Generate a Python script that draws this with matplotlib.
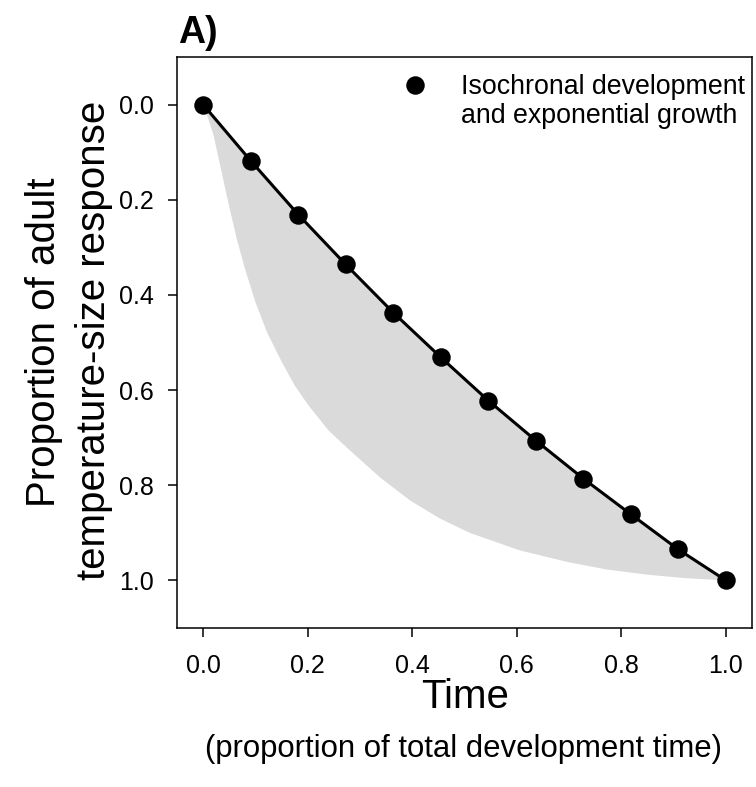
import matplotlib
matplotlib.use("Agg")
import matplotlib.pyplot as plt
from matplotlib.lines import Line2D

plt.rcParams['font.family'] = ['Liberation Sans', 'DejaVu Sans']

# Data
time_pts = [0.0, 0.0909, 0.1818, 0.2727, 0.3636, 0.4545, 0.5455, 0.6364, 0.7273, 0.8182, 0.9091, 1.0]
response_pts = [0.0, 0.118, 0.231, 0.336, 0.437, 0.531, 0.622, 0.706, 0.786, 0.861, 0.935, 1.0]

lower_x = [0.0, 0.01, 0.02, 0.035, 0.05, 0.065, 0.08, 0.10, 0.122, 0.15, 0.175, 0.20, 0.24,
           0.281, 0.34, 0.396, 0.453, 0.51, 0.606, 0.70, 0.772, 0.85, 0.92, 1.0]
lower_y = [0.0, 0.03, 0.065, 0.14, 0.215, 0.285, 0.345, 0.415, 0.478, 0.54, 0.59, 0.63, 0.685,
           0.727, 0.785, 0.832, 0.87, 0.90, 0.937, 0.962, 0.977, 0.988, 0.995, 1.0]

ticks = [0.0, 0.2, 0.4, 0.6, 0.8, 1.0]
tick_labels = ["0.0", "0.2", "0.4", "0.6", "0.8", "1.0"]
legend_lines = ["Isochronal development", "and exponential growth"]

W, H = 756, 787
fig = plt.figure(figsize=(W / 100, H / 100), dpi=100)
ax = fig.add_axes([177 / W, 1 - 628 / H, (752 - 177) / W, (628 - 57) / H])

# shaded region between the isochronal line and the lower curve
poly_x = list(time_pts) + lower_x[::-1]
poly_y = list(response_pts) + lower_y[::-1]
ax.fill(poly_x, poly_y, color='#dadada', lw=0, zorder=1)

ax.plot(time_pts, response_pts, color='black', lw=2.2, zorder=2)
pts, = ax.plot(time_pts, response_pts, 'o', color='black', ms=12.3, zorder=3)

ax.set_xlim(-0.05, 1.05)
ax.set_ylim(1.1, -0.1)
ax.set_xticks(ticks)
ax.set_xticklabels(tick_labels)
ax.set_yticks(ticks)
ax.set_yticklabels(tick_labels)
ax.tick_params(axis='both', labelsize=18, length=6.5, width=1.1, direction='out')
ax.tick_params(axis='y', pad=10)
ax.tick_params(axis='x', pad=12.5)
for s in ax.spines.values():
    s.set_linewidth(1.1)

blank = Line2D([], [], linestyle='none', marker=None)
fs_leg = 19.3
fs_px = fs_leg * 100 / 72
leg = ax.legend([pts, blank], legend_lines, loc='upper left',
                bbox_to_anchor=((415 - 0.5 * fs_px) / W, 1 - 74 / H),
                bbox_transform=fig.transFigure, frameon=False, fontsize=fs_leg,
                handletextpad=1.2, borderaxespad=0, borderpad=0, handlelength=1.0,
                labelspacing=0.1)

fig.text(178 / W, 1 - 33 / H, 'A)', fontsize=27, fontweight='bold', ha='left', va='center')
fig.text(44 / W, 1 - 342 / H, 'Proportion of adult', fontsize=29, rotation=90, ha='center', va='center')
fig.text(94 / W, 1 - 340 / H, 'temperature-size response', fontsize=29, rotation=90, ha='center', va='center')
fig.text(465 / W, 1 - 697 / H, 'Time', fontsize=29, ha='center', va='center')
fig.text(463 / W, 1 - 749 / H, '(proportion of total development time)', fontsize=22.4, ha='center', va='center')

fig.savefig('out.png', dpi=100)
